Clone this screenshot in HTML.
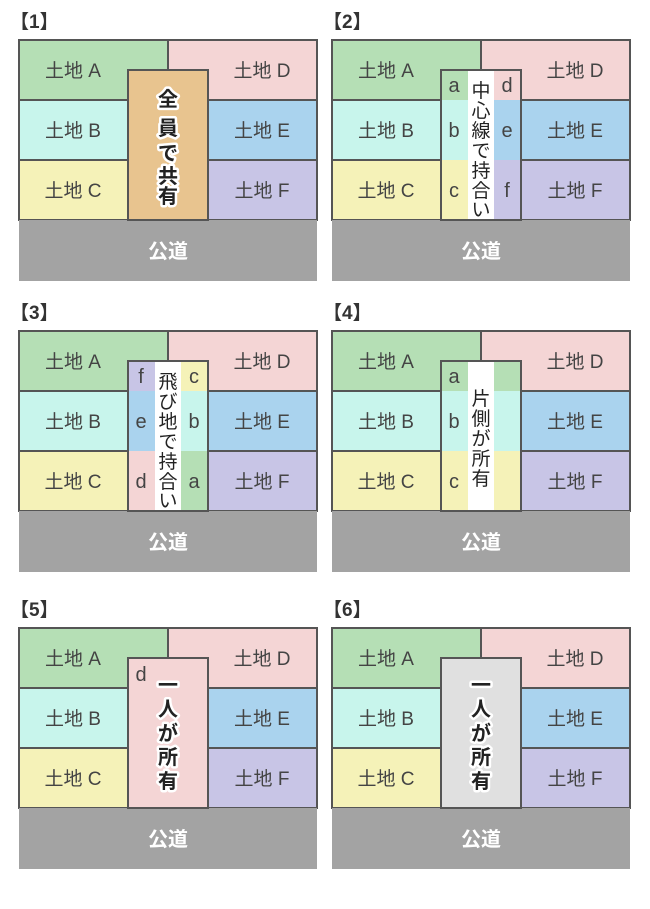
<!DOCTYPE html>
<html><head><meta charset="utf-8"><style>
body{margin:0;background:#fff;}
svg{display:block;font-family:"Liberation Sans","Noto Sans CJK JP",sans-serif;}
.l{font-size:19px;font-weight:normal;fill:#444;text-anchor:middle;}
.r{font-size:20px;font-weight:bold;fill:#fff;text-anchor:middle;}
.h{font-size:19px;font-weight:bold;fill:#333;}
.v{font-size:19px;font-weight:normal;fill:#222;text-anchor:middle;}
.vo{font-size:20px;font-weight:bold;fill:#222;text-anchor:middle;stroke:#fff;stroke-width:5px;paint-order:stroke;stroke-linejoin:round;}
.s{font-size:20px;fill:#444;text-anchor:middle;}
</style></head><body>
<svg width="650" height="909" viewBox="0 0 650 909">
<defs>
<g id="base" stroke="#555" stroke-width="2">
<rect x="19" y="40" width="149" height="60" fill="#b5dfb5"/>
<rect x="168" y="40" width="149" height="60" fill="#f4d5d5"/>
<rect x="19" y="100" width="109" height="60" fill="#c8f5ec"/>
<rect x="19" y="160" width="109" height="60" fill="#f5f2b8"/>
<rect x="208" y="100" width="109" height="60" fill="#aad3ee"/>
<rect x="208" y="160" width="109" height="60" fill="#c8c5e6"/>
<rect x="19" y="220" width="298" height="61" fill="#a3a3a3" stroke="none"/>
</g>
<g id="labels">
<text class="l" x="73" y="77">土地 A</text>
<text class="l" x="262" y="77">土地 D</text>
<text class="l" x="73" y="137">土地 B</text>
<text class="l" x="262" y="137">土地 E</text>
<text class="l" x="73" y="197">土地 C</text>
<text class="l" x="262" y="197">土地 F</text>
<text class="r" x="168" y="258">公道</text>
</g>
</defs>

<g>
<use href="#base"/>
<rect x="128" y="70" width="80" height="150" fill="#e8c48f" stroke="#555" stroke-width="2"/>
<use href="#labels"/>
<text class="h" x="10" y="28">【1】</text>
<text class="vo" x="168" y="106">全</text><text class="vo" x="168" y="135">員</text><text class="vo" x="168" y="160">で</text><text class="vo" x="168" y="183">共</text><text class="vo" x="168" y="203">有</text>
</g>

<g transform="translate(313,0)">
<use href="#base"/>
<rect x="128" y="70" width="27" height="30" fill="#b5dfb5"/>
<rect x="128" y="100" width="27" height="60" fill="#c8f5ec"/>
<rect x="128" y="160" width="27" height="60" fill="#f5f2b8"/>
<rect x="155" y="70" width="26" height="150" fill="#fff"/>
<rect x="181" y="70" width="27" height="30" fill="#f4d5d5"/>
<rect x="181" y="100" width="27" height="60" fill="#aad3ee"/>
<rect x="181" y="160" width="27" height="60" fill="#c8c5e6"/>
<rect x="128" y="70" width="80" height="150" fill="none" stroke="#555" stroke-width="2"/>
<use href="#labels"/>
<text class="h" x="10" y="28">【2】</text>
<text class="s" x="141" y="92">a</text><text class="s" x="141" y="137">b</text><text class="s" x="141" y="197">c</text>
<text class="s" x="194" y="92">d</text><text class="s" x="194" y="137">e</text><text class="s" x="194" y="197">f</text>
<text class="v" x="168" y="97">中</text><text class="v" x="168" y="117">心</text><text class="v" x="168" y="137">線</text><text class="v" x="168" y="157">で</text><text class="v" x="168" y="177">持</text><text class="v" x="168" y="197">合</text><text class="v" x="168" y="216">い</text>
</g>

<g transform="translate(0,291)">
<use href="#base"/>
<rect x="128" y="70" width="27" height="30" fill="#c8c5e6"/>
<rect x="128" y="100" width="27" height="60" fill="#aad3ee"/>
<rect x="128" y="160" width="27" height="60" fill="#f4d5d5"/>
<rect x="155" y="70" width="26" height="150" fill="#fff"/>
<rect x="181" y="70" width="27" height="30" fill="#f5f2b8"/>
<rect x="181" y="100" width="27" height="60" fill="#c8f5ec"/>
<rect x="181" y="160" width="27" height="60" fill="#b5dfb5"/>
<rect x="128" y="70" width="80" height="150" fill="none" stroke="#555" stroke-width="2"/>
<use href="#labels"/>
<text class="h" x="10" y="28">【3】</text>
<text class="s" x="141" y="92">f</text><text class="s" x="141" y="137">e</text><text class="s" x="141" y="197">d</text>
<text class="s" x="194" y="92">c</text><text class="s" x="194" y="137">b</text><text class="s" x="194" y="197">a</text>
<text class="v" x="168" y="97">飛</text><text class="v" x="168" y="117">び</text><text class="v" x="168" y="137">地</text><text class="v" x="168" y="157">で</text><text class="v" x="168" y="177">持</text><text class="v" x="168" y="197">合</text><text class="v" x="168" y="216">い</text>
</g>

<g transform="translate(313,291)">
<use href="#base"/>
<rect x="128" y="70" width="80" height="30" fill="#b5dfb5"/>
<rect x="128" y="100" width="80" height="60" fill="#c8f5ec"/>
<rect x="128" y="160" width="80" height="60" fill="#f5f2b8"/>
<rect x="155" y="70" width="26" height="150" fill="#fff"/>
<rect x="128" y="70" width="80" height="150" fill="none" stroke="#555" stroke-width="2"/>
<use href="#labels"/>
<text class="h" x="10" y="28">【4】</text>
<text class="s" x="141" y="92">a</text><text class="s" x="141" y="137">b</text><text class="s" x="141" y="197">c</text>
<text class="v" x="168" y="114">片</text><text class="v" x="168" y="134">側</text><text class="v" x="168" y="154">が</text><text class="v" x="168" y="174">所</text><text class="v" x="168" y="194">有</text>
</g>

<g transform="translate(0,588)">
<use href="#base"/>
<rect x="128" y="70" width="80" height="150" fill="#f4d5d5" stroke="#555" stroke-width="2"/>
<use href="#labels"/>
<text class="h" x="10" y="28">【5】</text>
<text class="s" x="141" y="93">d</text>
<text class="vo" x="168" y="104">一</text><text class="vo" x="168" y="128">人</text><text class="vo" x="168" y="152">が</text><text class="vo" x="168" y="176">所</text><text class="vo" x="168" y="200">有</text>
</g>

<g transform="translate(313,588)">
<use href="#base"/>
<rect x="128" y="70" width="80" height="150" fill="#e0e0e0" stroke="#555" stroke-width="2"/>
<use href="#labels"/>
<text class="h" x="10" y="28">【6】</text>
<text class="vo" x="168" y="104">一</text><text class="vo" x="168" y="128">人</text><text class="vo" x="168" y="152">が</text><text class="vo" x="168" y="176">所</text><text class="vo" x="168" y="200">有</text>
</g>
</svg>
</body></html>
